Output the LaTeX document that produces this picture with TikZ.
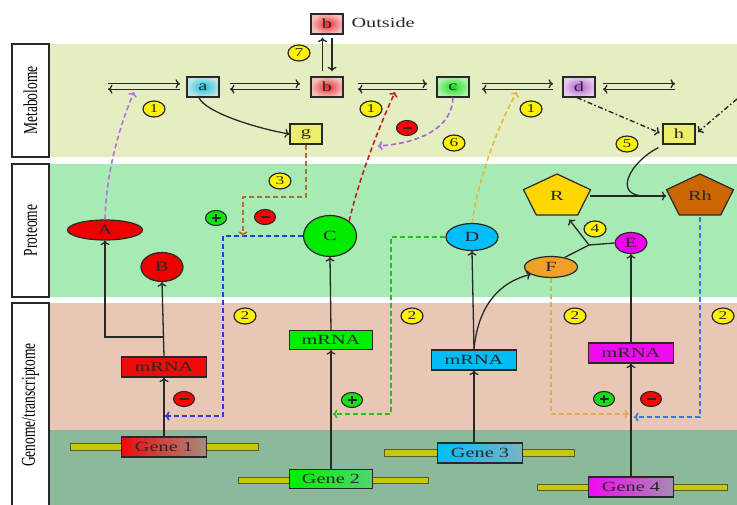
\documentclass[tikz,border=0pt]{standalone}
\usepackage{fontspec}
\setmainfont{Liberation Serif}
\usetikzlibrary{shapes.geometric,arrows.meta}
\newcommand{\sx}[1]{\scalebox{1.45}[1]{#1}}
\newcommand{\sy}[1]{\scalebox{1}[1.45]{#1}}
\definecolor{metcol}{RGB}{229,238,192}
\definecolor{procol}{RGB}{168,234,180}
\definecolor{gencol}{RGB}{232,200,180}
\definecolor{dnacol}{RGB}{140,184,156}
\definecolor{ink}{RGB}{40,40,40}
\definecolor{barcol}{RGB}{200,200,10}
\definecolor{gbox}{RGB}{238,238,110}
\begin{document}
\begin{tikzpicture}[x=1pt,y=-1pt,
  font=\fontsize{14}{15}\selectfont,
  ln/.style={draw=ink, line width=1.3pt},
  arr/.style={ln, -{To[length=4.5pt,width=9pt]}},
  dsh/.style={line width=1.6pt, dash pattern=on 5pt off 3pt, -{To[length=4.5pt,width=9pt]}},
  dashdot/.style={draw=ink, line width=1.4pt, dash pattern=on 5pt off 2.5pt on 1.5pt off 2.5pt, -{To[length=4.5pt,width=9pt]}},
  labelbox/.style={draw=ink, line width=1.5pt, fill=white, inner sep=0},
  met/.style={draw=ink, line width=1.3pt, minimum width=32, minimum height=20, inner sep=0, text=ink},
  prot/.style={ellipse, draw=ink, line width=1.2pt, inner sep=0, text=ink},
  rna/.style={draw=ink, line width=1.2pt, minimum width=85, minimum height=20, inner sep=0, text=ink},
  numc/.style={ellipse, draw=ink, line width=1.2pt, fill=yellow, minimum width=22, minimum height=16, inner sep=0, font=\fontsize{12}{12}\selectfont, text=ink},
  sign/.style={ellipse, draw=ink, line width=1.1pt, minimum width=21, minimum height=15, inner sep=0},
  minus/.style={sign, fill=red, path picture={\draw[ink, line width=1.1pt] ([xshift=-4.5pt]path picture bounding box.center) -- ([xshift=4.5pt]path picture bounding box.center);}},
  plus/.style={sign, fill={rgb,255:red,20;green,225;blue,20}, path picture={\draw[ink, line width=1.1pt] ([xshift=-4.5pt]path picture bounding box.center) -- ([xshift=4.5pt]path picture bounding box.center) ([yshift=-4pt]path picture bounding box.center) -- ([yshift=4pt]path picture bounding box.center);}},
  bar/.style={draw=ink!70!barcol, line width=1pt, fill=barcol}
]
\useasboundingbox (0,0) rectangle (737,505);
% bands
\fill[metcol] (49,44) rectangle (737,157);
\fill[procol] (49,164) rectangle (737,297);
\fill[gencol] (49,303) rectangle (737,430);
\fill[dnacol] (49,430) rectangle (737,505);
% label boxes
\node[labelbox, minimum width=37, minimum height=113] (lm) at (30.5,100.5) {};
\node[rotate=90, font=\fontsize{13.5}{15}\selectfont] (lmt) at (lm) {\sy{Metabolome}};
\node[labelbox, minimum width=37, minimum height=133] (lp) at (30.5,230.5) {};
\node[rotate=90, font=\fontsize{13.5}{15}\selectfont] (lpt) at (lp) {\sy{Proteome}};
\node[labelbox, minimum width=37, minimum height=206] (lg) at (30.5,406) {};
\node[rotate=90, font=\fontsize{13.5}{15}\selectfont] (lgt) at (30.5,405) {\sy{Genome/transcriptome}};

% metabolites
\node[met, shading=radial, inner color={rgb,255:red,240;green,40;blue,40}, outer color={rgb,255:red,245;green,190;blue,190}] (bo) at (327,24) {\sx{b}};
\node[anchor=west, text=ink] (out) at (348,23) {\sx{Outside}};
\node[met, shading=radial, inner color={rgb,255:red,20;green,195;blue,225}, outer color={rgb,255:red,190;green,228;blue,228}] (a) at (203,87) {\sx{a}};
\node[met, shading=radial, inner color={rgb,255:red,240;green,40;blue,40}, outer color={rgb,255:red,245;green,190;blue,190}] (b) at (327,87) {\sx{b}};
\node[met, shading=radial, inner color={rgb,255:red,20;green,225;blue,20}, outer color={rgb,255:red,175;green,240;blue,175}] (c) at (453,87) {\sx{c}};
\node[met, shading=radial, inner color={rgb,255:red,180;green,90;blue,215}, outer color={rgb,255:red,228;green,205;blue,235}] (d) at (579,87) {\sx{d}};
\node[met, fill=gbox] (g) at (306,134) {\sx{g}};
\node[met, fill=gbox] (h) at (679,134) {\sx{h}};

% reversible reactions
\coordinate (r1a) at (108,86.5); \coordinate (r1b) at (180,86.5);
\coordinate (r2a) at (230,86.5); \coordinate (r2b) at (300,86.5);
\coordinate (r3a) at (358,86.5); \coordinate (r3b) at (427,86.5);
\coordinate (r4a) at (482,86.5); \coordinate (r4b) at (553,86.5);
\coordinate (r5a) at (603,86.5); \coordinate (r5b) at (675,86.5);
\foreach \p/\q in {r1a/r1b,r2a/r2b,r3a/r3b,r4a/r4b,r5a/r5b}{
  \draw[arr] ([yshift=2.7pt]\p) -- ([yshift=2.7pt]\q);
  \draw[arr] ([yshift=-2.7pt]\q) -- ([yshift=-2.7pt]\p);
}
% transport b <-> outside
\draw[arr, shorten <=5pt, shorten >=3pt] ([xshift=-4.5pt]b.north) -- ([xshift=-4.5pt]bo.south);
\draw[arr, shorten <=3pt, shorten >=5pt] ([xshift=5pt]bo.south) -- ([xshift=5pt]b.north);

% numbered circles (metabolome)
\node[numc] (n7) at (299,53) {\sx{7}};
\node[numc] (n1a) at (154,109) {\sx{1}};
\node[numc] (n1b) at (371,109) {\sx{1}};
\node[numc] (n1c) at (531,109) {\sx{1}};
\node[numc] (n6) at (454,143) {\sx{6}};
\node[numc] (n5) at (627,144) {\sx{5}};
\node[minus] (mm) at (407,128) {};

% a -> g
\draw[arr] ([xshift=-4pt]a.south) .. controls (205,112) and (255,128) .. (g.west);
% c feedback (6)
\coordinate (p6) at (378,146);
\draw[dsh, draw={rgb,255:red,170;green,100;blue,220}] (c.south) .. controls (452,128) and (420,143) .. (p6);
% d -> h, far right -> h
\draw[dashdot, shorten >=3pt] ([xshift=-2pt]d.south) -- (h.west);
\coordinate (hr) at (737,99);
\draw[dashdot, shorten >=3pt] (hr) -- (h.east);

% proteome
\node[prot, fill={rgb,255:red,238;green,0;blue,0}, minimum width=75, minimum height=20] (A) at (105,230) {\sx{A}};
\node[prot, fill={rgb,255:red,238;green,0;blue,0}, minimum width=42, minimum height=29] (B) at (162,267) {\sx{B}};
\node[prot, fill={rgb,255:red,0;green,235;blue,0}, minimum width=53, minimum height=41] (C) at (330,236) {\sx{C}};
\node[prot, fill={rgb,255:red,0;green,190;blue,250}, minimum width=52, minimum height=27] (D) at (472,237) {\sx{D}};
\node[prot, fill={rgb,255:red,240;green,160;blue,40}, minimum width=53, minimum height=21] (F) at (551,267) {\sx{F}};
\node[prot, fill={rgb,255:red,238;green,0;blue,238}, minimum width=32, minimum height=21] (E) at (631,243) {\sx{E}};
% pentagons
\fill[fill={rgb,255:red,255;green,215;blue,0}, draw=ink, line width=1.2pt]
  (557,174) -- (590.5,189.7) -- (577.7,215) -- (536.3,215) -- (523.5,189.7) -- cycle;
\node[inner sep=0, minimum width=67, minimum height=41, text=ink] (R) at (557,196) {\sx{R}};
\fill[fill={rgb,255:red,204;green,102;blue,0}, draw=ink, line width=1.2pt]
  (700,174) -- (733.5,189.7) -- (720.7,215) -- (679.3,215) -- (666.5,189.7) -- cycle;
\node[inner sep=0, minimum width=67, minimum height=41, text=ink] (Rh) at (700,196) {\sx{Rh}};

\node[numc] (n3) at (280,181) {\sx{3}};
\node[numc] (n4) at (595,229) {\sx{4}};
\node[plus] (pp1) at (216,218) {};
\node[minus] (mm1) at (265,217) {};

% R -> Rh, h -> Rh
\coordinate (jr) at (645,196);
\draw[arr] (590,196) -- (Rh.west);
\draw[ln] ([xshift=-4pt,yshift=-3pt]h.south west) .. controls (630,162) and (612,196) .. (jr);
% F + E -> R
\coordinate (j) at (589,245);
\draw[ln] (F.35) -- (j);
\draw[ln] (E.west) -- (j);
\draw[arr, shorten >=2pt] (j) -- (568,218);

% genome
\draw[bar] (70,443) rectangle (258,450);
\draw[bar] (238,477) rectangle (428,483);
\draw[bar] (384,449) rectangle (574,456);
\draw[bar] (537,484) rectangle (727,490);
\node[rna, fill={rgb,255:red,240;green,10;blue,10}] (m1) at (164,367) {\sx{mRNA}};
\node[rna, left color={rgb,255:red,240;green,10;blue,10}, right color={rgb,255:red,165;green,140;blue,125}] (g1) at (164,447) {\sx{Gene 1}};
\node[rna, fill={rgb,255:red,0;green,238;blue,0}, minimum width=83, minimum height=19] (m2) at (331,340) {\sx{mRNA}};
\node[rna, left color={rgb,255:red,0;green,238;blue,0}, right color={rgb,255:red,80;green,215;blue,110}, minimum width=83, minimum height=19] (g2) at (331,479) {\sx{Gene 2}};
\node[rna, fill={rgb,255:red,0;green,190;blue,245}] (m3) at (474,360) {\sx{mRNA}};
\node[rna, left color={rgb,255:red,0;green,190;blue,245}, right color={rgb,255:red,120;green,180;blue,195}] (g3) at (480,453) {\sx{Gene 3}};
\node[rna, fill={rgb,255:red,240;green,10;blue,240}] (m4) at (631,353) {\sx{mRNA}};
\node[rna, left color={rgb,255:red,240;green,10;blue,240}, right color={rgb,255:red,165;green,140;blue,180}] (g4) at (631,487) {\sx{Gene 4}};

\node[numc] (n2a) at (245,316) {\sx{2}};
\node[numc] (n2b) at (412,316) {\sx{2}};
\node[numc] (n2c) at (575,316) {\sx{2}};
\node[numc] (n2d) at (723,316) {\sx{2}};
\node[minus] (mm2) at (184,399) {};
\node[plus] (pp2) at (352,400) {};
\node[plus] (pp3) at (604,399) {};
\node[minus] (mm3) at (651,399) {};

% transcription / translation
\draw[arr] (g1.north) -- (m1.south);
\draw[arr] (m1.north) -- (B.south);
\coordinate (br1) at (164,337);
\draw[arr] (br1) -| (A.south);
\draw[arr] (g2.north) -- (m2.south);
\draw[arr] (m2.north) -- (C.south);
\draw[arr] (g3.north -| m3.south) -- (m3.south);
\draw[arr] (m3.north) -- (D.south);
\draw[arr] (m3.north) .. controls (478,305) and (500,282) .. (F.200);
\draw[arr] (g4.north) -- (m4.south);
\draw[arr] (m4.north) -- (E.south);

% regulatory dashed links
\coordinate (t1) at (165,416);
\coordinate (t2) at (333,414);
\coordinate (t3) at (243,236);
\coordinate (t4) at (629,414);
\coordinate (t5) at (634,417);
\draw[dsh, draw={rgb,255:red,40;green,60;blue,230}] (C.west) -| (223,416) -- (t1);
\draw[dsh, draw={rgb,255:red,180;green,110;blue,50}] (g.south) |- (243,197) -- (t3);
\draw[dsh, draw={rgb,255:red,40;green,190;blue,40}] (D.west) -| (391,414) -- (t2);
\draw[dsh, draw={rgb,255:red,225;green,170;blue,80}] (F.south) |- (t4);
\draw[dsh, draw={rgb,255:red,60;green,120;blue,225}] (Rh.south) |- (t5);

% protein -> metabolome activity links
\coordinate (p1) at (134,92);
\coordinate (p2) at (395,92);
\coordinate (p3) at (517,92);
\draw[dsh, draw={rgb,255:red,180;green,110;blue,230}] (A.north) .. controls (106,175) and (118,130) .. (p1);
\draw[dsh, draw={rgb,255:red,180;green,40;blue,30}] (C.north east) .. controls (360,175) and (380,125) .. (p2);
\draw[dsh, draw={rgb,255:red,225;green,185;blue,60}] (D.north) .. controls (478,180) and (498,125) .. (p3);
\end{tikzpicture}
\end{document}
